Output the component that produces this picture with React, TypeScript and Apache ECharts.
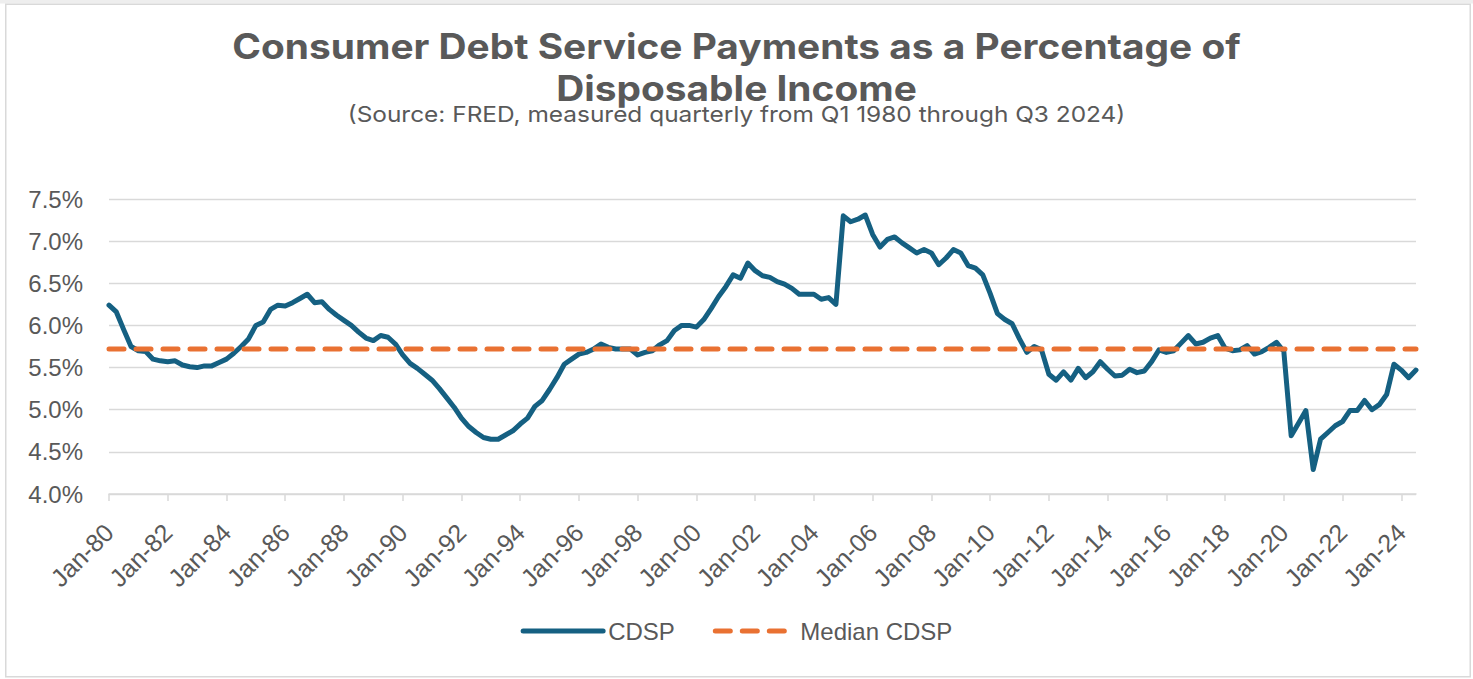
import React, { useEffect, useRef } from "react";
import * as echarts from "echarts";

// Quarterly consumer debt service payments (% of disposable income), Q1 1980 – Q3 2024
const cdsp1980s = [
  6.24, 6.16, 5.95, 5.75, 5.70, 5.69, 5.60, 5.58, 5.57, 5.58,
  5.53, 5.51, 5.50, 5.52, 5.52, 5.56, 5.60, 5.67, 5.75, 5.84,
  6.00, 6.04, 6.19, 6.24, 6.23, 6.27, 6.32, 6.37, 6.27, 6.28,
  6.19, 6.12, 6.06, 6.00, 5.92, 5.85, 5.82, 5.88, 5.86, 5.78,
];
const cdsp1990s = [
  5.65, 5.55, 5.49, 5.42, 5.35, 5.25, 5.14, 5.03, 4.90, 4.80,
  4.73, 4.67, 4.65, 4.65, 4.70, 4.75, 4.83, 4.90, 5.04, 5.11,
  5.24, 5.38, 5.54, 5.60, 5.66, 5.68, 5.72, 5.78, 5.74, 5.72,
  5.72, 5.72, 5.65, 5.68, 5.70, 5.77, 5.82, 5.94, 6.00, 6.00,
];
const cdsp2000s = [
  5.98, 6.07, 6.20, 6.34, 6.46, 6.60, 6.56, 6.74, 6.65, 6.59,
  6.57, 6.52, 6.49, 6.44, 6.37, 6.37, 6.37, 6.31, 6.33, 6.25,
  7.30, 7.23, 7.26, 7.31, 7.08, 6.93, 7.02, 7.05, 6.98, 6.92,
  6.86, 6.90, 6.86, 6.72, 6.80, 6.90, 6.86, 6.71, 6.68, 6.60,
];
const cdsp2010s = [
  6.38, 6.14, 6.07, 6.02, 5.84, 5.68, 5.75, 5.71, 5.42, 5.35,
  5.45, 5.35, 5.49, 5.38, 5.45, 5.57, 5.48, 5.40, 5.41, 5.48,
  5.44, 5.46, 5.57, 5.71, 5.68, 5.70, 5.79, 5.88, 5.78, 5.80,
  5.85, 5.88, 5.73, 5.70, 5.71, 5.76, 5.66, 5.69, 5.74, 5.80,
];
const cdsp2020s = [
  5.69, 4.69, 4.84, 4.99, 4.29, 4.65, 4.73, 4.81, 4.86, 4.99,
  4.99, 5.11, 5.00, 5.06, 5.18, 5.54, 5.47, 5.38, 5.47,
];

const MEDIAN_CDSP = 5.72;

const FIRST_YEAR = 1980;
const QUARTER_MONTHS = ["Jan", "Apr", "Jul", "Oct"];

const Y_TICKS = { min: 4.0, max: 7.5, step: 0.5 };

const TITLE_LINES = ["Consumer Debt Service Payments as a Percentage of", "Disposable Income"];
const SUBTITLE = "(Source: FRED, measured quarterly from Q1 1980 through Q3 2024)";

const TEXT_COLOR = "#595959";
const GRID_COLOR = "#d9d9d9";
const BLUE = "#156082";
const ORANGE = "#E97132";
const FONT = "'Liberation Sans', Arial, sans-serif";
const TITLE_FONT = "Inter, 'Liberation Sans', sans-serif";
// heading typeface is set a little wider than Inter's natural proportions
const TITLE_STRETCH = 1.11;
const CENTER_X = 736.5;

export default function App() {
  const ref = useRef<HTMLDivElement>(null);

  useEffect(() => {
    if (!ref.current) return;
    const chart = echarts.init(ref.current, undefined, { renderer: "svg" });

    const values = [...cdsp1980s, ...cdsp1990s, ...cdsp2000s, ...cdsp2010s, ...cdsp2020s];
    const categories = values.map((_, i) => {
      const year = FIRST_YEAR + Math.floor(i / 4);
      return `${QUARTER_MONTHS[i % 4]}-${String(year % 100).padStart(2, "0")}`;
    });
    const lastIdx = categories.length - 1;

    const headingText = (text: string, y: number, size: number, weight: string) => ({
      type: "text",
      x: CENTER_X,
      y,
      scaleX: TITLE_STRETCH,
      silent: true,
      style: {
        text,
        fill: TEXT_COLOR,
        font: `${weight} ${size}px ${TITLE_FONT}`,
        align: "center",
        verticalAlign: "middle",
      },
    });

    chart.setOption({
      animation: false,
      backgroundColor: "#ffffff",
      textStyle: { fontFamily: FONT },
      graphic: [
        { type: "rect", shape: { x: 0, y: 0, width: 1473, height: 3.5 }, style: { fill: "#eeeeee" }, silent: true },
        {
          type: "rect",
          shape: { x: 5.75, y: 4.25, width: 1464.5, height: 672.5 },
          style: { fill: "none", stroke: GRID_COLOR, lineWidth: 1.5 },
          silent: true,
        },
        headingText(TITLE_LINES[0], 46, 35, "bold"),
        headingText(TITLE_LINES[1], 88.5, 35, "bold"),
        headingText(SUBTITLE, 114, 22, "normal"),
      ],
      legend: {
        bottom: 31,
        left: "center",
        itemWidth: 80,
        itemHeight: 14,
        itemGap: 38,
        itemStyle: { opacity: 0 },
        textStyle: { fontSize: 24, color: TEXT_COLOR, fontFamily: FONT },
        data: [
          { name: "CDSP", lineStyle: { color: BLUE, width: 5, cap: "round" } },
          { name: "Median CDSP", lineStyle: { color: ORANGE, width: 5, type: [15, 12], cap: "round" } },
        ],
      },
      grid: { left: 109, right: 57, top: 199, bottom: 185, containLabel: false },
      xAxis: {
        type: "category",
        data: categories,
        boundaryGap: false,
        axisLine: { lineStyle: { color: GRID_COLOR, width: 1.5 } },
        axisTick: { show: true, interval: 7, length: 7, lineStyle: { color: GRID_COLOR, width: 1.5 } },
        axisLabel: {
          interval: 7,
          rotate: 45,
          margin: 34,
          fontSize: 25,
          color: TEXT_COLOR,
          fontFamily: FONT,
        },
        splitLine: { show: false },
      },
      yAxis: {
        type: "value",
        min: Y_TICKS.min,
        max: Y_TICKS.max,
        interval: Y_TICKS.step,
        axisLine: { show: false },
        axisTick: { show: false },
        axisLabel: {
          margin: 26,
          fontSize: 24,
          color: TEXT_COLOR,
          fontFamily: FONT,
          formatter: (v: number) => `${v.toFixed(1)}%`,
        },
        splitLine: { lineStyle: { color: GRID_COLOR, width: 1.3 } },
      },
      series: [
        {
          name: "CDSP",
          type: "line",
          data: values,
          symbol: "none",
          lineStyle: { color: BLUE, width: 5, cap: "round", join: "round" },
          itemStyle: { color: BLUE },
        },
        {
          name: "Median CDSP",
          type: "line",
          data: [
            [0, MEDIAN_CDSP],
            [lastIdx, MEDIAN_CDSP],
          ],
          symbol: "none",
          lineStyle: { color: ORANGE, width: 5, type: [15, 12], cap: "round" },
          itemStyle: { color: ORANGE },
        },
      ],
    });

    return () => chart.dispose();
  }, []);

  return (
    <div
      ref={ref}
      style={{ position: "absolute", left: 0, top: 0, width: 1473, height: 679 }}
    />
  );
}
